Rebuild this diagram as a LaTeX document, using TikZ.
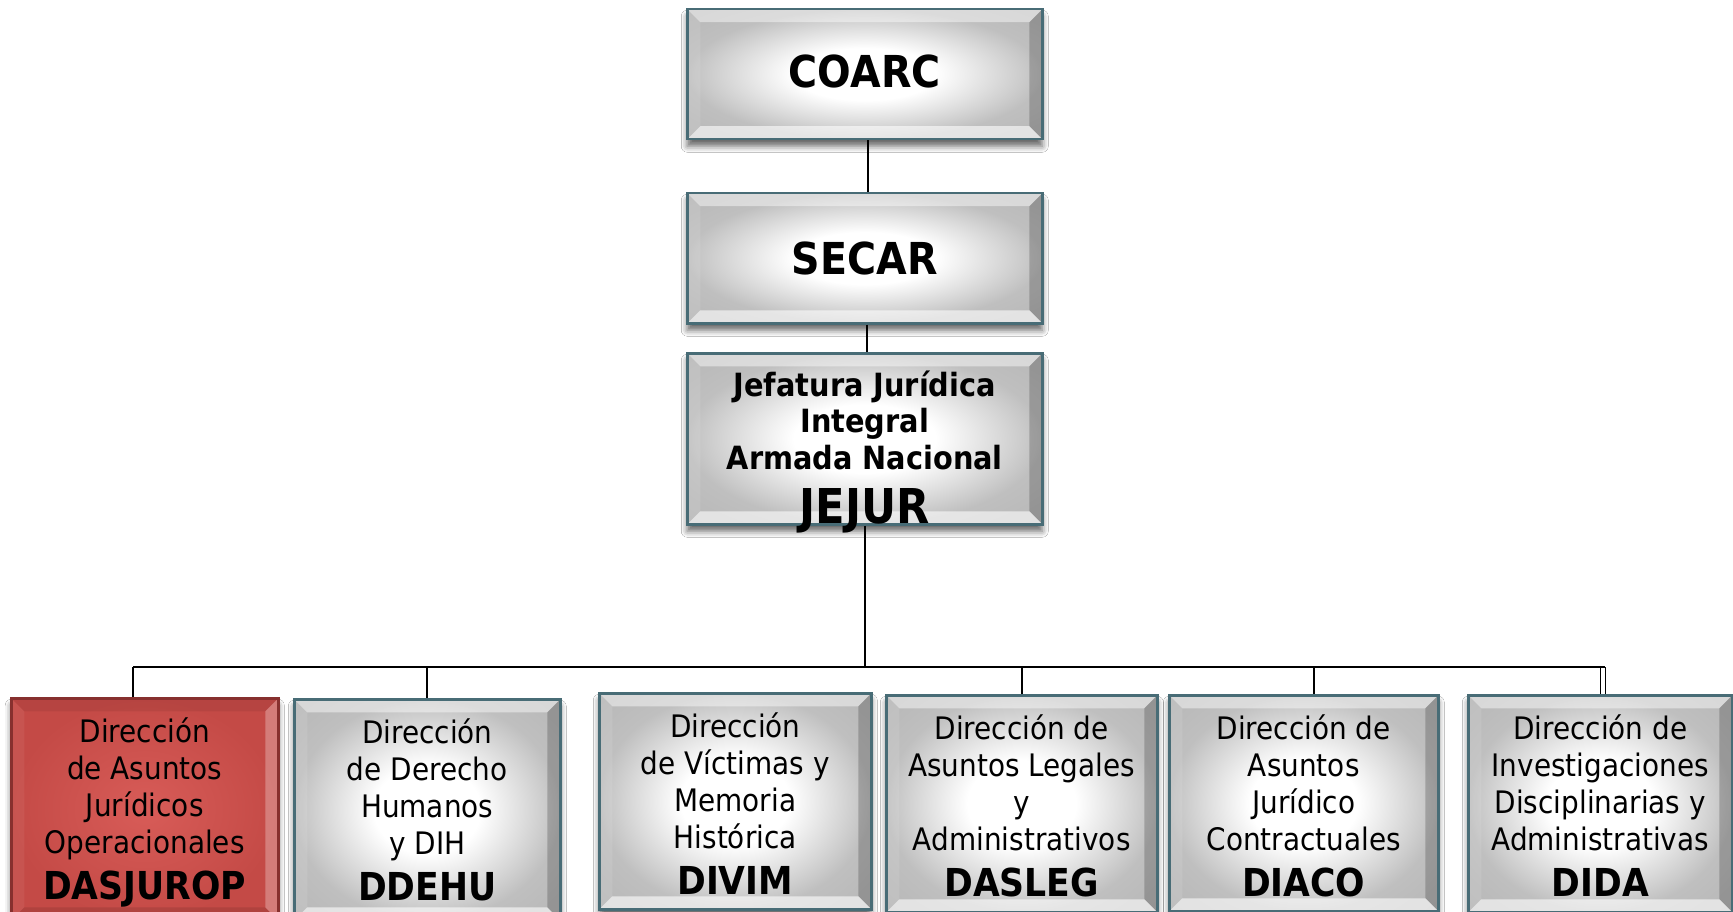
\documentclass[tikz,border=0pt]{standalone}
\usepackage{fontspec}
\setmainfont{DejaVu Sans}[FakeStretch=0.9]
\usetikzlibrary{shadows.blur,calc}
\definecolor{bord}{RGB}{72,108,118}
\definecolor{rbord}{RGB}{135,48,46}
\definecolor{rdin}{RGB}{216,92,88}
\definecolor{rdout}{RGB}{196,74,70}
\pgfdeclareradialshading{glowgray}{\pgfpoint{0bp}{0bp}}{color(0bp)=(white); color(10bp)=(white); color(25bp)=(black!25); color(50bp)=(black!33)}
\pgfdeclareradialshading{glowred}{\pgfpoint{0bp}{0bp}}{color(0bp)=(rdin); color(25bp)=(rdout); color(50bp)=(rdout)}
\newcommand\bevfill[4]{%
  \path (path picture bounding box.north west) coordinate (bvnw)
        (path picture bounding box.north east) coordinate (bvne)
        (path picture bounding box.south west) coordinate (bvsw)
        (path picture bounding box.south east) coordinate (bvse);
  \fill[#1] (bvnw) -- (bvne) -- ([shift={(-13pt,-13pt)}]bvne) -- ([shift={(13pt,-13pt)}]bvnw) -- cycle;
  \fill[#2] (bvnw) -- ([shift={(13pt,-13pt)}]bvnw) -- ([shift={(13pt,13pt)}]bvsw) -- (bvsw) -- cycle;
  \fill[#3] (bvne) -- ([shift={(-13pt,-13pt)}]bvne) -- ([shift={(-13pt,13pt)}]bvse) -- (bvse) -- cycle;
  \fill[#4] (bvsw) -- ([shift={(13pt,13pt)}]bvsw) -- ([shift={(-13pt,13pt)}]bvse) -- (bvse) -- cycle;
}
\newcommand\subtext[3]{\begin{minipage}[c][#1][t]{#2}\centering\fontsize{31}{37}\selectfont\rule{0pt}{44pt}#3\end{minipage}}
\newcommand\abbv[1]{\\[9pt]{\fontsize{38.5}{37}\selectfont\bfseries #1}}
\tikzset{
  orgbox/.style={rectangle, inner sep=0pt, anchor=north west, line width=2.5pt,
    blur shadow={shadow xshift=0pt, shadow yshift=-7pt, shadow blur radius=6pt, shadow opacity=60}},
  graybox/.style={orgbox, draw=bord, shade, shading=glowgray,
    path picture={\bevfill{white,fill opacity=.45}{white,fill opacity=.1}{black,fill opacity=.2}{white,fill opacity=.6}}},
  redbox/.style={orgbox, draw=rbord, shade, shading=glowred,
    path picture={\bevfill{black,fill opacity=.07}{white,fill opacity=.06}{white,fill opacity=.28}{black,fill opacity=.1}}},
  link/.style={draw=black, line width=1.8pt},
  bigbold/.style={font=\fontsize{44}{48}\selectfont\bfseries},
}
\begin{document}
\begin{tikzpicture}[x=1pt,y=-1pt]
\fill[white] (0,0) rectangle (1733,912);
\useasboundingbox (0,0) rectangle (1733,912);

\node[graybox, bigbold, minimum width=355pt, minimum height=130pt] (coarc) at (686,8) {\raisebox{7pt}{COARC}};
\node[graybox, bigbold, minimum width=355pt, minimum height=130pt] (secar) at (686,192) {SECAR};
\node[graybox, minimum width=355pt, minimum height=171pt] (jejur) at (686,352)
  {\begin{minipage}[c][171pt][t]{350pt}\centering\fontsize{32}{36.5}\selectfont\bfseries\rule{0pt}{43pt}Jefatura Jurídica\\Integral\\Armada Nacional\\[18pt]{\fontsize{48}{40}\selectfont JEJUR}\end{minipage}};

\node[redbox, minimum width=267pt, minimum height=222pt] (dasjurop) at (10,697)
  {\subtext{222pt}{263pt}{Dirección\\de Asuntos\\Jurídicos\\Operacionales\abbv{DASJUROP}}};
\node[graybox, minimum width=266pt, minimum height=221pt] (ddehu) at (293,698)
  {\subtext{221pt}{262pt}{Dirección\\de Derecho\\Humanos\\y DIH\abbv{DDEHU}}};
\node[graybox, minimum width=272pt, minimum height=216pt] (divim) at (598,692)
  {\subtext{216pt}{268pt}{Dirección\\de Víctimas y\\Memoria\\Histórica\abbv{DIVIM}}};
\node[graybox, minimum width=271pt, minimum height=217pt] (dasleg) at (885,694)
  {\subtext{217pt}{267pt}{Dirección de\\Asuntos Legales\\y\\Administrativos\abbv{DASLEG}}};
\node[graybox, minimum width=269pt, minimum height=216pt] (diaco) at (1168,694)
  {\subtext{216pt}{265pt}{Dirección de\\Asuntos\\Jurídico\\Contractuales\abbv{DIACO}}};
\node[graybox, minimum width=264pt, minimum height=217pt] (dida) at (1467,694)
  {\subtext{217pt}{260pt}{Dirección de\\Investigaciones\\Disciplinarias y\\Administrativas\abbv{DIDA}}};

\draw[link] ([xshift=3pt]coarc.south) -- ([xshift=3pt]secar.north);
\draw[link] ([xshift=2pt]secar.south) -- ([xshift=2pt]jejur.north);

\coordinate (busL) at (133,667);
\coordinate (busR) at (1605,667);
\draw[link] (jejur.south) -- (jejur.south |- busL);
\draw[link] (busL) -- (busR);
\draw[link] (busL) -- (busL |- dasjurop.north);
\draw[link] (ddehu.north |- busL) -- (ddehu.north);
\draw[link] (dasleg.north |- busL) -- (dasleg.north);
\coordinate (diacoin) at ($(diaco.north)+(10,0)$);
\draw[link] (diacoin |- busL) -- (diacoin);
\coordinate (didaa) at ($(dida.north)+(0.5,0)$);
\coordinate (didab) at ($(dida.north)+(5,0)$);
\draw[line width=1.3pt] (didaa |- busL) -- (didaa);
\draw[line width=1.3pt] (didab |- busL) -- (didab);
\end{tikzpicture}
\end{document}
